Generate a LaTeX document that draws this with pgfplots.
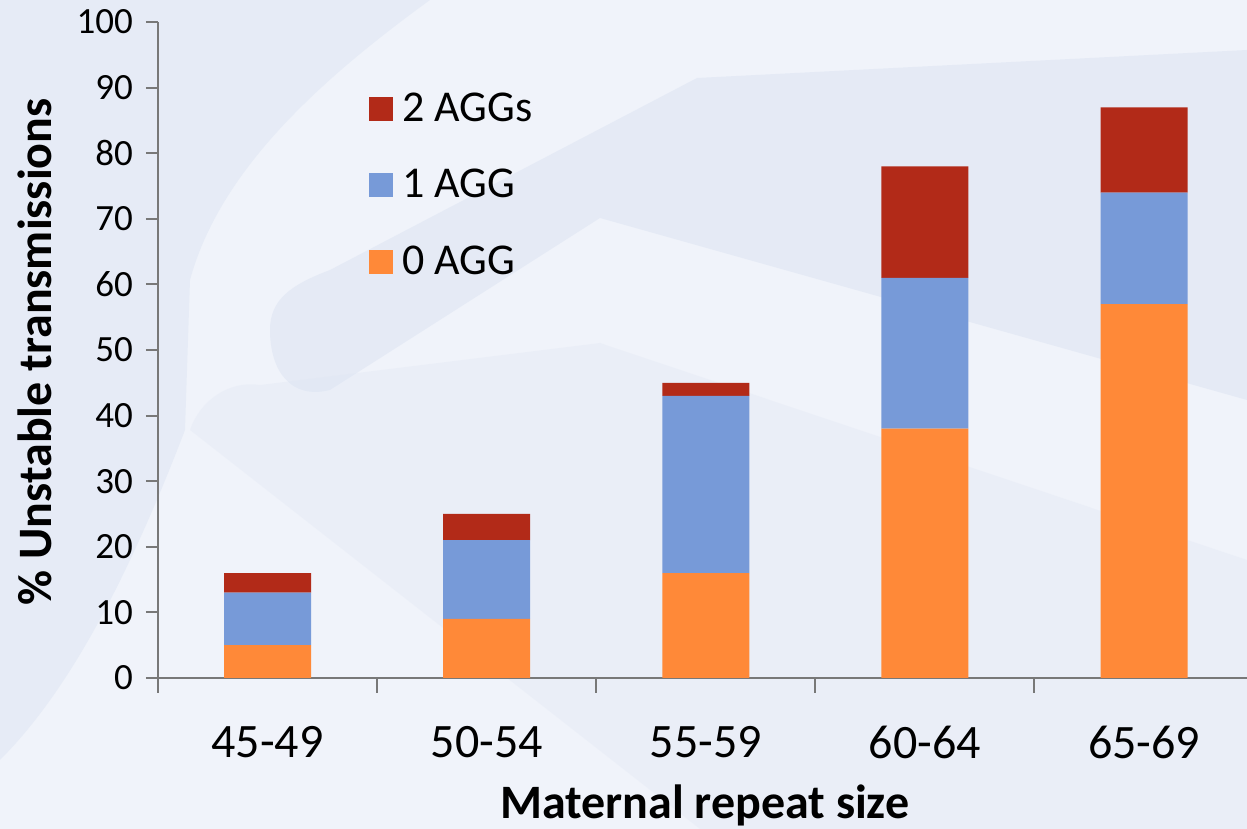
\documentclass[border=0pt]{standalone}
\usepackage{pgfplots}
\pgfplotsset{compat=1.18}
\usepackage{pgfplotstable}
\usepackage{fontspec}
\setmainfont{Carlito}

\definecolor{aggred}{RGB}{178,42,24}
\definecolor{aggblue}{RGB}{119,154,216}
\definecolor{aggorange}{RGB}{255,137,56}
\definecolor{axisgray}{RGB}{120,120,120}
\definecolor{bgbase}{RGB}{240,243,250}
\definecolor{bgband}{RGB}{222,229,243}

% percentage of unstable transmissions by number of AGG interruptions
\pgfplotstableread{
x  zero one two
0  5    8   3
1  9    12  4
2  16   27  2
3  38   23  17
4  57   17  13
}\aggdata

\begin{document}
\begin{tikzpicture}
% slide background (units of half a point, origin top left)
\begin{scope}[x=0.5pt, y=-0.5pt, shift={(0pt,414.5pt)}]
\fill[bgbase] (0,0) rectangle (1247,829);
\fill[bgband,opacity=0.55] (0,0) -- (430,0) .. controls (320,80) and (220,170) .. (190,280) -- (185,430) .. controls (120,600) and (60,700) .. (0,760) -- cycle;
\fill[bgband,opacity=0.6] (270,330) .. controls (270,300) and (290,285) .. (330,270) -- (697,78) -- (1247,50) -- (1247,400) -- (600,218) -- (330,390) .. controls (290,400) and (270,370) .. cycle;
\fill[bgband,opacity=0.3] (190,430) .. controls (200,400) and (230,380) .. (260,385) -- (600,343) -- (1247,560) -- (1247,829) -- (700,829) -- cycle;
\end{scope}

\begin{axis}[
  at={(79pt,75.5pt)}, anchor=south west,
  scale only axis,
  width=544.5pt, height=328pt,
  ybar stacked, bar width=43.5pt,
  xmin=-0.5, xmax=4.47,
  ymin=0, ymax=100,
  axis lines*=left,
  axis line style={axisgray, line width=1pt},
  every tick/.style={axisgray, line width=1pt},
  tick align=outside,
  xtick={0,1,2,3,4},
  xticklabels={45-49,50-54,55-59,60-64,65-69},
  major x tick style={draw=none},
  minor xtick={-0.5,0.5,1.5,2.5,3.5},
  minor tick length=7.5pt,
  ytick={0,10,...,100},
  major tick length=6pt,
  /pgf/number format/assume math mode=true,
  yticklabel style={font=\fontsize{18.5}{22}\selectfont, anchor=east, xshift=-3pt},
  xticklabel style={font=\fontsize{24}{28}\selectfont, anchor=center, yshift=-26pt},
  xlabel={Maternal repeat size},
  ylabel={\% Unstable transmissions},
  xlabel style={font=\bfseries\fontsize{24}{28}\selectfont, at={(axis description cs:0.502,-0.194)}, anchor=center},
  ylabel style={font=\bfseries\fontsize{24}{28}\selectfont, at={(axis description cs:-0.113,0.497)}, anchor=center},
  legend image code/.code={\fill[#1] (0pt,-6pt) rectangle (12pt,6pt); \path (15pt,0pt);},
  legend style={at={(axis description cs:0.193,0.899)}, anchor=north west,
    draw=none, fill=none, font=\fontsize{22}{26}\selectfont,
    row sep=18pt, inner sep=0pt,
    nodes={inner sep=2pt, text depth=0.2em}},
  legend cell align=left,
  reverse legend,
  clip=false,
]
\addplot[fill=aggorange, draw=none] table[x=x, y=zero] {\aggdata};
\addplot[fill=aggblue, draw=none] table[x=x, y=one] {\aggdata};
\addplot[fill=aggred, draw=none] table[x=x, y=two] {\aggdata};
\legend{0 AGG, 1 AGG, 2 AGGs}
\end{axis}
\pgfresetboundingbox
\useasboundingbox (0,0) rectangle (623.5pt,414.5pt);
\end{tikzpicture}
\end{document}
